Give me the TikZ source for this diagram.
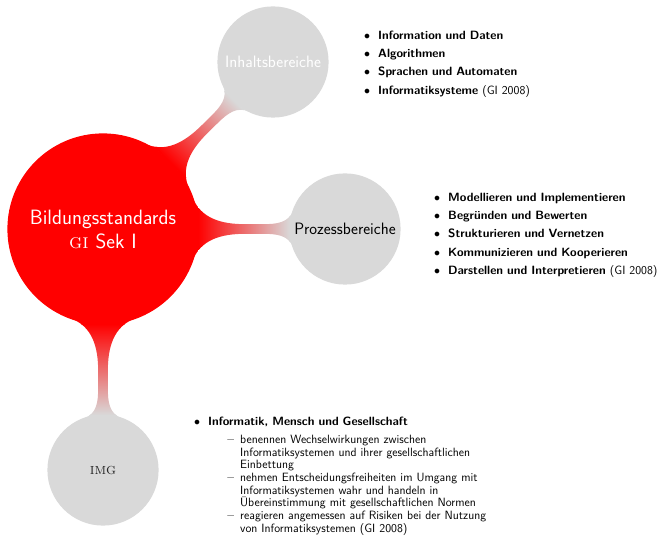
\documentclass[tikz,border=0pt]{standalone}
\usepackage{enumitem}
\usetikzlibrary{mindmap}

\setlist[itemize,1]{label=$\bullet$,leftmargin=14pt,labelsep=8pt,topsep=0pt,itemsep=5.6pt,parsep=0pt}
\setlist[itemize,2]{label={\rmfamily\bfseries\textendash},leftmargin=32pt,labelsep=6pt,topsep=5.3pt,itemsep=0pt,parsep=0pt}

\tikzset{
  bereich/.style={concept,circle,fill=gray!30,minimum size=110pt,inner sep=0pt,
    text width=104pt,align=center,font=\fontsize{16.5}{20}\selectfont\sffamily},
  liste/.style={anchor=north west,inner sep=0pt,align=left,
    font=\fontsize{12}{12.7}\selectfont\sffamily}
}

\begin{document}
\begin{tikzpicture}[x=1pt,y=1pt]
  \useasboundingbox (0,0) rectangle (658,538);
  \begin{scope}[mindmap,concept color=gray!30]
    \node[concept,concept color=red,fill=red,circle,minimum size=190pt,inner sep=0pt,
      text width=170pt,align=center,text=white,
      font=\fontsize{20.7}{24}\selectfont\sffamily] (bildung) at (103,309)
      {Bildungsstandards\\{\rmfamily\textsc{gi}} Sek I};
    \node[bereich,text=white] (inhalt) at (273,476) {Inhaltsbereiche};
    \node[bereich,text=black] (prozess) at (345,309) {Prozessbereiche};
    \node[bereich,text=black!85,font=\fontsize{15.6}{18}\selectfont\rmfamily] (img) at (103,68) {\textsc{img}};
    \path[line width=11pt] (bildung) to[circle connection bar switch color=from (red) to (gray!30)] (inhalt);
    \path[line width=11pt] (bildung) to[circle connection bar switch color=from (red) to (gray!30)] (prozess);
    \path[line width=11pt] (bildung) to[circle connection bar switch color=from (red) to (gray!30)] (img);
  \end{scope}
  % Listen
  \node[liste,text width=220pt] (inhaltliste) at (364,511.5) {%
    \begin{itemize}
      \item \textbf{Information und Daten}
      \item \textbf{Algorithmen}
      \item \textbf{Sprachen und Automaten}
      \item \textbf{Informatiksysteme} (GI 2008)
    \end{itemize}};
  \node[liste,text width=240pt] (prozessliste) at (434,349.5) {%
    \begin{itemize}
      \item \textbf{Modellieren und Implementieren}
      \item \textbf{Begr\"unden und Bewerten}
      \item \textbf{Strukturieren und Vernetzen}
      \item \textbf{Kommunizieren und Kooperieren}
      \item \textbf{Darstellen und Interpretieren} (GI 2008)
    \end{itemize}};
  \node[liste,text width=304pt] (imgliste) at (194,125.5) {%
    \begin{itemize}
      \item \textbf{Informatik, Mensch und Gesellschaft}
      \begin{itemize}
        \item benennen Wechselwirkungen zwischen Informatiksystemen und ihrer gesellschaftlichen Einbettung
        \item nehmen Entscheidungsfreiheiten im Umgang mit Informatiksystemen wahr und handeln in \"Ubereinstimmung mit gesellschaftlichen Normen
        \item reagieren angemessen auf Risiken bei der Nutzung von Informatiksystemen (GI 2008)
      \end{itemize}
    \end{itemize}};
\end{tikzpicture}
\end{document}
